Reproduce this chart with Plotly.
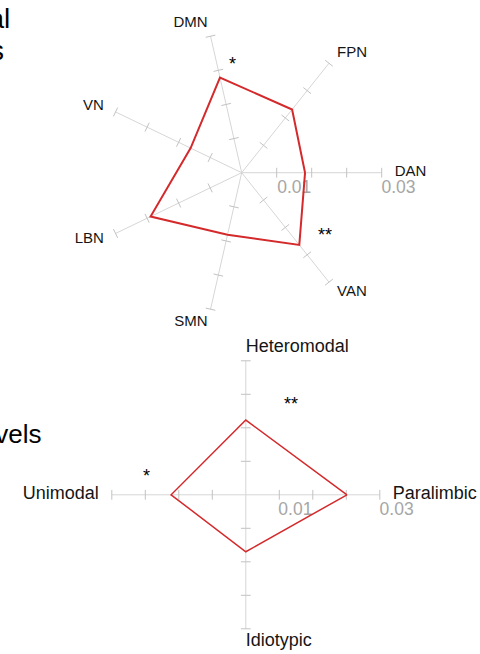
import math
import plotly.graph_objects as go

# ---------------- data ----------------
net_labels = ["DAN", "FPN", "DMN", "VN", "LBN", "SMN", "VAN"]
net_values = [0.0081, 0.0131, 0.0179, 0.0062, 0.0189, 0.0082, 0.0164]

level_labels = ["Paralimbic", "Heteromodal", "Unimodal", "Idiotypic"]
level_values = [0.0202, 0.0123, 0.0123, 0.0070]

axis_range = [-0.01, 0.03]          # centre .. end of each spoke
tick_values = [0.0, 0.01, 0.02, 0.03]
tick_label_values = [0.01, 0.03]
tick_label_text = ["0.01", "0.03"]

# ---------------- style ----------------
W, H = 480, 654
FONT = "Liberation Sans, Arial, Helvetica, sans-serif"
RED = "#d42a2c"
SPOKE = "#d6d6d6"
TICK = "#c2c2c2"
TICKFONT = "#a6a6a6"
LABEL_GAP_PX = 13

charts = [
    dict(sub="polar", labels=net_labels, values=net_values,
         cx=241.7, cy=172.7, R=140, lab_size=15, line_w=2.0),
    dict(sub="polar2", labels=level_labels, values=level_values,
         cx=245.8, cy=494.8, R=134, lab_size=18, line_w=1.5),
]

fig = go.Figure()
layout_polars = {}

for ch in charts:
    n = len(ch["labels"])
    angles = [i * 360.0 / n for i in range(n)]
    span = axis_range[1] - axis_range[0]
    per_px = span / ch["R"]
    sub = ch["sub"]
    label_r = axis_range[1] + LABEL_GAP_PX * per_px
    outer_r = label_r + 2 * per_px
    R_total = (outer_r - axis_range[0]) / per_px

    # spokes
    sr, st = [], []
    for a in angles:
        sr += [axis_range[0], axis_range[1], None]
        st += [a, a, None]
    fig.add_trace(go.Scatterpolar(
        r=sr, theta=st, mode="lines", subplot=sub, hoverinfo="skip",
        line=dict(color=SPOKE, width=1), showlegend=False))

    # perpendicular tick marks on every spoke
    tr, tt, ta = [], [], []
    for a in angles:
        for v in tick_values:
            tr.append(v)
            tt.append(a)
            ta.append(-a)
    fig.add_trace(go.Scatterpolar(
        r=tr, theta=tt, mode="markers", subplot=sub, hoverinfo="skip",
        marker=dict(symbol="line-ns", size=7, angle=ta,
                    line=dict(color=TICK, width=1)),
        showlegend=False))

    # tick labels below the 0-degree spoke
    lab_theta = []
    for v in tick_label_values:
        rpx = (v - axis_range[0]) / per_px
        lab_theta.append(-math.degrees(math.atan(7.5 / rpx)))
    fig.add_trace(go.Scatterpolar(
        r=tick_label_values, theta=lab_theta, mode="text", subplot=sub,
        text=tick_label_text, textposition=["bottom left", "bottom right"],
        textfont=dict(family=FONT, size=17.5, color=TICKFONT),
        cliponaxis=False, hoverinfo="skip", showlegend=False))

    # data polygon
    fig.add_trace(go.Scatterpolar(
        r=ch["values"] + ch["values"][:1], theta=angles + angles[:1],
        mode="lines", subplot=sub, line=dict(color=RED, width=ch["line_w"]),
        hoverinfo="skip", showlegend=False))

    # category labels
    pos = []
    for a in angles:
        c = math.cos(math.radians(a))
        pos.append("middle left" if c < -1e-6 else "middle right")
    fig.add_trace(go.Scatterpolar(
        r=[label_r] * n, theta=angles, mode="text", subplot=sub,
        text=ch["labels"], textposition=pos,
        textfont=dict(family=FONT, size=ch["lab_size"], color="#151515"),
        cliponaxis=False, hoverinfo="skip", showlegend=False))

    cx, cy = ch["cx"], ch["cy"]
    layout_polars[sub] = dict(
        domain=dict(x=[(cx - R_total) / W, (cx + R_total) / W],
                    y=[1 - (cy + R_total) / H, 1 - (cy - R_total) / H]),
        bgcolor="rgba(0,0,0,0)",
        radialaxis=dict(range=[axis_range[0], outer_r], showgrid=False,
                        showline=False, showticklabels=False, ticks=""),
        angularaxis=dict(rotation=0, direction="counterclockwise",
                         thetaunit="degrees", showgrid=False,
                         showticklabels=False, ticks="", showline=False),
    )

annotations = []
# cut-off panel titles at the left edge
for text, x_end, y_mid, size in [("Functional", 12, 18, 28),
                                 ("networks", 6, 50, 28),
                                 ("levels", 43, 434, 26)]:
    annotations.append(dict(text=text, x=x_end / W, y=1 - y_mid / H,
                            xref="paper", yref="paper", xanchor="right",
                            yanchor="middle", showarrow=False,
                            font=dict(family=FONT, size=size, color="#000")))
# significance stars
for text, x, y in [("*", 232.7, 64), ("**", 325, 235),
                   ("**", 291, 404), ("*", 146, 476)]:
    annotations.append(dict(text=text, x=x / W, y=1 - y / H,
                            xref="paper", yref="paper", xanchor="center",
                            yanchor="middle", showarrow=False,
                            font=dict(family=FONT, size=18, color="#000")))

fig.update_layout(
    width=W, height=H, margin=dict(l=0, r=0, t=0, b=0),
    paper_bgcolor="white", plot_bgcolor="white", showlegend=False,
    annotations=annotations, **layout_polars)

fig.write_html("out.html", config={"displayModeBar": False},
               post_script="document.body.style.margin='0';")
